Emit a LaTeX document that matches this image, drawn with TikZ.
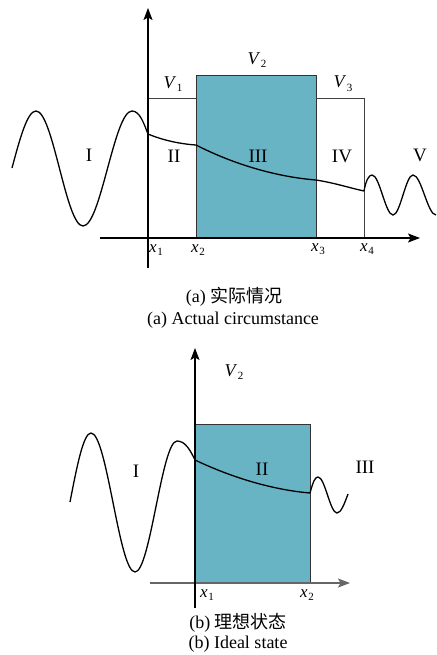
\documentclass[tikz,border=0pt]{standalone}
\usepackage{fontspec}
\setmainfont{Liberation Serif}
\newfontfamily\cjk{Noto Sans CJK SC}
\usetikzlibrary{arrows.meta}
\newcommand{\lbl}[2]{\textit{#1}\kern0.5pt\raisebox{-0.45ex}{\fontsize{11}{11}\selectfont #2}}
\definecolor{boxblue}{HTML}{68B4C5}
\tikzset{
  axis/.style={line width=1.1pt,-{Stealth[length=12pt,width=9pt,inset=2.5pt]}},
  thin line/.style={line width=0.9pt, draw=black!75},
  wave/.style={line width=1.3pt},
  bluebox/.style={fill=boxblue, draw=black!80, line width=1pt},
  roman/.style={font=\fontsize{19}{19}\selectfont, inner sep=0pt},
  vlab/.style={font=\fontsize{18}{18}\selectfont, inner sep=0pt},
  xlab/.style={font=\fontsize{17}{17}\selectfont, inner sep=0pt},
  captext/.style={font=\fontsize{18}{20}\selectfont, inner sep=0pt},
}
\begin{document}
\begin{tikzpicture}[x=1pt,y=-1pt]
\useasboundingbox (0,0) rectangle (436,655);
% ---------------- panel (a) ----------------
\coordinate (ya0) at (148,268);
\coordinate (ya1) at (148,8);
\coordinate (xa0) at (100,238);
\coordinate (xa1) at (420,238);
\coordinate (b1tl) at (148,98);
\coordinate (b1tr) at (196,98);
\coordinate (b3tl) at (316,98);
\coordinate (b3tr) at (364,98);
\coordinate (b3br) at (364,238);
\coordinate (c0) at (148,134);
\coordinate (c1) at (196,145);
\coordinate (c2) at (316,180);
\coordinate (c3) at (364,191);
\draw[bluebox] (196,76) rectangle (316,238);
\draw[thin line] (b1tl) -- (b1tr);
\draw[thin line] (b3tl) -- (b3tr) -- (b3br);
\draw[axis] (ya0) -- (ya1);
\draw[axis] (xa0) -- (xa1);
% left wave
\draw[wave] (12,168) sin (36,111) cos (59.5,168.5) sin (83,226) cos (107.5,168.5) sin (132,111)
  .. controls (140,111) and (144,124) .. (c0);
% decay curve
\draw[wave] (c0) .. controls (162,140) and (180,144) .. (c1)
  .. controls (235,165) and (278,177) .. (c2)
  .. controls (335,183) and (350,188) .. (c3);
% right wave
\draw[wave] (c3) .. controls (366,180) and (369,175) .. (372,175) cos (382.5,195) sin (393,215) cos (403,195) sin (413,175) cos (424.5,195) sin (436,215);
% labels
\node[roman] (rI) at (89,155) {I};
\node[roman] (rII) at (174,156) {II};
\node[roman] (rIII) at (258,156) {III};
\node[roman] (rIV) at (342,156) {IV};
\node[roman] (rV) at (420,155) {V};
\node[vlab] (v1) at (173,84) {\lbl{V}{1}};
\node[vlab] (v2) at (257,60) {\lbl{V}{2}};
\node[vlab] (v3) at (343,84) {\lbl{V}{3}};
\node[xlab] (x1) at (156,250) {\lbl{x}{1}};
\node[xlab] (x2) at (198,250) {\lbl{x}{2}};
\node[xlab] (x3) at (318,249) {\lbl{x}{3}};
\node[xlab] (x4) at (367,249) {\lbl{x}{4}};
\node[captext] (capa1) at (234,297) {(a) {\cjk 实际情况}};
\node[captext] (capa2) at (233,320) {(a) Actual circumstance};
% ---------------- panel (b) ----------------
\coordinate (yb0) at (195,608);
\coordinate (yb1) at (195,348);
\coordinate (xb0) at (150,583);
\coordinate (xb1) at (350,583);
\coordinate (d0) at (195,460);
\coordinate (d1) at (310,493);
\draw[bluebox] (195,424) rectangle (310,583);
\draw[axis, draw=black!60] (xb0) -- (xb1);
\draw[axis] (yb0) -- (yb1);
\draw[wave] (70,502) sin (91,433) cos (113,502.5) sin (135,572) cos (156,506.5) sin (177,441)
  .. controls (186,441) and (191,452) .. (d0);
\draw[wave] (d0) .. controls (235,479) and (275,490) .. (d1);
\draw[wave] (d1) .. controls (313,482) and (315,477) .. (318,477) cos (327.5,495) sin (337,513) cos (348,494);
\node[roman] (bI) at (136,471) {I};
\node[roman] (bII) at (262,469) {II};
\node[roman] (bIII) at (365,467) {III};
\node[vlab] (bv2) at (234,372) {\lbl{V}{2}};
\node[xlab] (bx1) at (207,595) {\lbl{x}{1}};
\node[xlab] (bx2) at (307,595) {\lbl{x}{2}};
\node[captext] (capb1) at (238,623) {(b) {\cjk 理想状态}};
\node[captext] (capb2) at (238,644) {(b) Ideal state};
\end{tikzpicture}
\end{document}
